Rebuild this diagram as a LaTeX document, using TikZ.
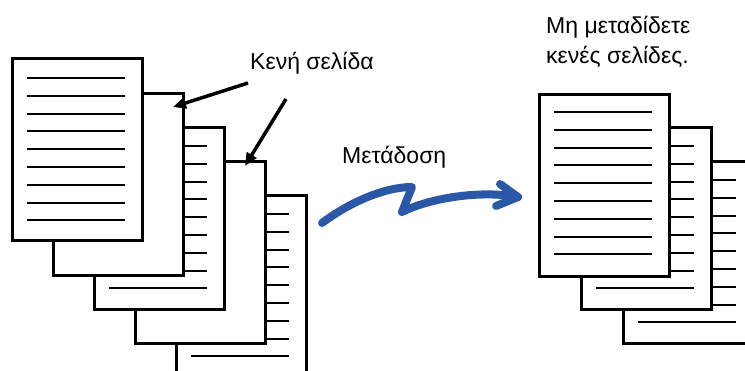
\documentclass[tikz,border=0pt]{standalone}
\usepackage{fontspec}
\setmainfont{Liberation Sans}
\usetikzlibrary{arrows.meta}
\definecolor{sendblue}{HTML}{2B58A6}

\begin{document}
\begin{tikzpicture}[x=1pt,y=-1pt,
  page/.style={draw,line width=3.4pt,fill=white,anchor=north west,inner sep=0pt,
    minimum width=130pt,minimum height=182pt},
  rule/.style={line width=2pt},
  pointer/.style={line width=3.5pt,-{Triangle[length=13pt,width=11pt]}},
  lbl/.style={font=\fontsize{23}{30}\selectfont,inner sep=0pt,anchor=base west}]
\useasboundingbox (0,0) rectangle (745,370);
\clip (0,0) rectangle (745,370);

% LEFT STACK (back to front)
\node[page] (p5) at (175,194) {};
\foreach \k in {0,...,8}
  \draw[rule] ([xshift=16pt,yshift={-20pt-\k*17.8pt}]p5.north west) -- ++(98,0);
\node[page] (p4) at (134,160) {};  % blank
\node[page] (p3) at (93,126) {};
\foreach \k in {0,...,8}
  \draw[rule] ([xshift=16pt,yshift={-20pt-\k*17.8pt}]p3.north west) -- ++(98,0);
\node[page] (p2) at (52,92) {};   % blank
\node[page] (p1) at (11,57) {};
\foreach \k in {0,...,8}
  \draw[rule] ([xshift=16pt,yshift={-21pt-\k*17.8pt}]p1.north west) -- ++(98,0);

% RIGHT STACK
\node[page] (q3) at (622,160) {};
\foreach \k in {0,...,8}
  \draw[rule] ([xshift=16pt,yshift={-20pt-\k*17.8pt}]q3.north west) -- ++(98,0);
\node[page] (q2) at (580,126) {};
\foreach \k in {0,...,8}
  \draw[rule] ([xshift=16pt,yshift={-20pt-\k*17.8pt}]q2.north west) -- ++(98,0);
\node[page] (q1) at (538,93) {};
\foreach \k in {0,...,8}
  \draw[rule] ([xshift=16pt,yshift={-19pt-\k*17.8pt}]q1.north west) -- ++(98,0);

% NOTES
\node[lbl] (blank) at (250,69) {Κενή σελίδα};
\node[lbl] (send) at (342,163) {Μετάδοση};
\node[lbl] (skip1) at (546,33) {Μη μεταδίδετε};
\node[lbl] (skip2) at (546,63) {κενές σελίδες.};

% ARROWS
\coordinate (b1) at (248,83);
\coordinate (t1) at (173,107);
\coordinate (b2) at (286,99);
\coordinate (t2) at (245,166);
\draw[pointer] (b1) -- (t1);
\draw[pointer] (b2) -- (t2);

\coordinate (s0) at (322,223);
\coordinate (s1) at (412,187);
\coordinate (s2) at (402,212);
\coordinate (s3) at (518,197);
\draw[sendblue,line width=8pt,line cap=round,line join=round]
  (s0) .. controls (350,202) and (385,187) .. (s1) -- (s2)
  .. controls (430,198) and (480,190) .. (s3);
\draw[sendblue,line width=8pt,line cap=round,line join=round]
  (500,184) -- (s3) -- (496,206);
\end{tikzpicture}
\end{document}
